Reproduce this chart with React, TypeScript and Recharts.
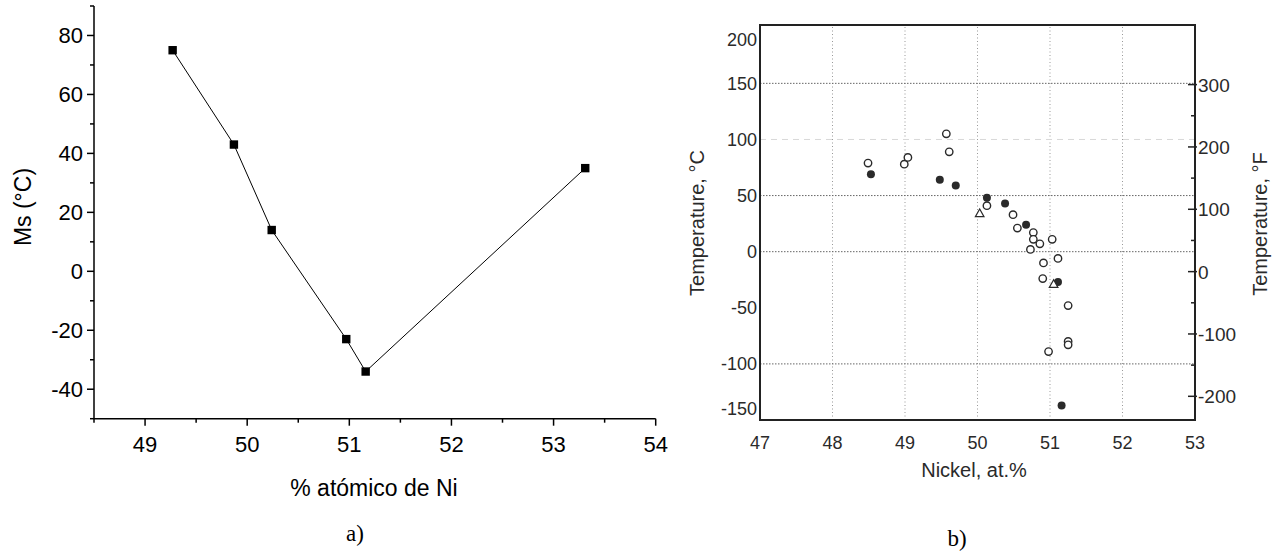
import {
  Line,
  LineChart,
  ReferenceArea,
  ReferenceLine,
  Scatter,
  ScatterChart,
  XAxis,
  YAxis,
} from "recharts";

// panel a) Ms vs Ni content
const niA = [49.27, 49.87, 50.24, 50.97, 51.16, 53.31];
const msA = [75, 43, 14, -23, -34, 35];
const ticksAX = [48.5, 49, 49.5, 50, 50.5, 51, 51.5, 52, 52.5, 53, 53.5, 54];
const majorAX = [49, 50, 51, 52, 53, 54];
const ticksAY = [-50, -40, -30, -20, -10, 0, 10, 20, 30, 40, 50, 60, 70, 80, 90];
const majorAY = [-40, -20, 0, 20, 40, 60, 80];

// panel b) scanned transformation temperatures
const openNi = [48.49, 48.99, 49.04, 49.57, 49.61, 50.13, 50.49, 50.55, 50.77, 50.77, 50.86, 50.73, 51.03, 51.11, 50.91, 50.9, 51.25, 51.25, 51.25, 50.98];
const openT = [79, 78, 84, 105, 89, 41, 33, 21, 17, 11, 7, 2, 11, -6, -10, -24, -48, -80, -83, -89];
const filledNi = [48.53, 49.48, 49.7, 50.13, 50.38, 50.67, 51.11, 51.16];
const filledT = [69, 64, 59, 48, 43, 24, -27, -137];
const triNi = [50.03, 51.05];
const triT = [34, -29];
const ticksBX = [47, 48, 49, 50, 51, 52, 53];
const ticksBC = [-150, -100, -50, 0, 50, 100, 150, 200];
const ticksBF = [-200, -150, -100, -50, 0, 50, 100, 150, 200, 250, 300];
const majorBF = [-200, -100, 0, 100, 200, 300];
const gridBX = [48, 49, 50, 51, 52];
const gridBC = [150, 50, 0, -100];
const faintBC = [100];

const domX: [number, number] = [47, 53];
const domC: [number, number] = [-150, 202];
const domF: [number, number] = [domC[0] * 1.8 + 32, domC[1] * 1.8 + 32];

const SANS = "'Liberation Sans', Arial, sans-serif";
const SERIF = "'Liberation Serif', 'Times New Roman', serif";
const INK = "#2a2a2a";

const dataA = niA.map((ni, i) => ({ ni, ms: msA[i] }));
const toPts = (xs: number[], ys: number[]) => xs.map((ni, i) => ({ ni, t: ys[i] }));

function TickAY({ x, y, payload }: any) {
  const major = majorAY.includes(payload.value);
  return (
    <g>
      <line x1={x} x2={x - (major ? 7 : 4)} y1={y} y2={y} stroke="#000" strokeWidth={1.5} />
      {major && (
        <text x={x - 11} y={y + 8} textAnchor="end" fontSize={22} fill="#000">
          {payload.value}
        </text>
      )}
    </g>
  );
}

function TickAX({ x, y, payload }: any) {
  const major = majorAX.includes(payload.value);
  return (
    <g>
      <line x1={x} x2={x} y1={y} y2={y + (major ? 7 : 4)} stroke="#000" strokeWidth={1.5} />
      {major && (
        <text x={x} y={y + 33} textAnchor="middle" fontSize={22} fill="#000">
          {payload.value}
        </text>
      )}
    </g>
  );
}

function SquareDot({ cx, cy }: any) {
  return <rect x={cx - 4.2} y={cy - 4.2} width={8.4} height={8.4} fill="#000" />;
}

function TickBC({ x, y, payload }: any) {
  const v = payload.value;
  let dy = 6.5;
  if (v === 200) dy += 12;
  if (v === -150) dy -= 12;
  return (
    <text x={x - 3} y={y + dy} textAnchor="end" fontSize={18} fill={INK}>
      {v}
    </text>
  );
}

function TickBF({ x, y, payload }: any) {
  const major = majorBF.includes(payload.value);
  return (
    <g>
      <line x1={x - (major ? 7 : 4)} x2={x + (major ? 2 : 0)} y1={y} y2={y} stroke="#222" strokeWidth={1.5} />
      {major && (
        <text x={x + 3} y={y + 7} textAnchor="start" fontSize={19} fill={INK}>
          {payload.value}
        </text>
      )}
    </g>
  );
}

function TickBX({ x, y, payload }: any) {
  return (
    <text x={x} y={y + 29} textAnchor="middle" fontSize={18} fill={INK}>
      {payload.value}
    </text>
  );
}

const OpenCircle = ({ cx, cy }: any) => (
  <circle cx={cx} cy={cy} r={3.7} fill="#fff" stroke={INK} strokeWidth={1.4} />
);
const FilledCircle = ({ cx, cy }: any) => <circle cx={cx} cy={cy} r={4} fill="#2a2a2a" />;
const OpenTriangle = ({ cx, cy }: any) => (
  <polygon
    points={`${cx},${cy - 4.5} ${cx - 4.3},${cy + 3.2} ${cx + 4.3},${cy + 3.2}`}
    fill="#fff"
    stroke={INK}
    strokeWidth={1.2}
  />
);

function Title({ x, y, text, rotate, size, color, font }: any) {
  return (
    <div
      style={{
        position: "absolute",
        left: x,
        top: y,
        transform: `translate(-50%, -50%)${rotate ? " rotate(-90deg)" : ""}`,
        whiteSpace: "nowrap",
        fontSize: size,
        lineHeight: 1,
        color,
        fontFamily: font,
      }}
    >
      {text}
    </div>
  );
}

export default function App() {
  return (
    <div style={{ position: "absolute", left: 0, top: 0, width: 1281, height: 556, background: "#fff" }}>
      <div style={{ position: "absolute", left: 0, top: 0 }}>
        <LineChart
          width={680}
          height={556}
          data={dataA}
          margin={{ top: 6, right: 24.3, bottom: 107.3, left: 34 }}
          style={{ fontFamily: SANS }}
        >
          <XAxis
            dataKey="ni"
            type="number"
            domain={[48.5, 54]}
            ticks={ticksAX}
            interval={0}
            height={30}
            tickSize={0}
            tickMargin={0}
            tickLine={false}
            tick={<TickAX />}
            axisLine={{ stroke: "#000", strokeWidth: 1.5 }}
          />
          <YAxis
            type="number"
            domain={[-50, 90]}
            ticks={ticksAY}
            interval={0}
            width={60}
            tickSize={0}
            tickMargin={0}
            tickLine={false}
            tick={<TickAY />}
            axisLine={{ stroke: "#000", strokeWidth: 1.5 }}
          />
          <Line
            dataKey="ms"
            type="linear"
            stroke="#000"
            strokeWidth={1}
            dot={<SquareDot />}
            activeDot={false}
            isAnimationActive={false}
          />
        </LineChart>
      </div>

      <div style={{ position: "absolute", left: 680, top: 0 }}>
        <ScatterChart
          width={601}
          height={556}
          margin={{ top: 25, right: 36, bottom: 106, left: 20 }}
          style={{ fontFamily: SANS }}
        >
          <XAxis
            dataKey="ni"
            type="number"
            domain={domX}
            allowDataOverflow
            ticks={ticksBX}
            interval={0}
            height={30}
            tickSize={0}
            tickMargin={0}
            tickLine={false}
            tick={<TickBX />}
            axisLine={{ stroke: "#222", strokeWidth: 2 }}
          />
          <YAxis
            yAxisId="c"
            dataKey="t"
            type="number"
            domain={domC}
            allowDataOverflow
            ticks={ticksBC}
            interval={0}
            width={60}
            tickSize={0}
            tickMargin={0}
            tickLine={false}
            tick={<TickBC />}
            axisLine={{ stroke: "#222", strokeWidth: 2 }}
          />
          <YAxis
            yAxisId="f"
            orientation="right"
            type="number"
            domain={domF}
            allowDataOverflow
            ticks={ticksBF}
            interval={0}
            width={50}
            tickSize={0}
            tickMargin={0}
            tickLine={false}
            tick={<TickBF />}
            axisLine={{ stroke: "#222", strokeWidth: 2 }}
          />
          {gridBX.map((v) => (
            <ReferenceLine key={`gx${v}`} x={v} yAxisId="c" stroke="#999" strokeDasharray="1 2.5" />
          ))}
          {gridBC.map((v) => (
            <ReferenceLine key={`gy${v}`} y={v} yAxisId="c" stroke="#666" strokeDasharray="1.5 1.5" />
          ))}
          {faintBC.map((v) => (
            <ReferenceLine key={`fy${v}`} y={v} yAxisId="c" stroke="#d8d8d8" strokeDasharray="6 5" />
          ))}
          {/* frame of the scanned plot */}
          <ReferenceArea
            x1={domX[0]}
            x2={domX[1]}
            y1={domC[0]}
            y2={domC[1]}
            yAxisId="c"
            ifOverflow="visible"
            fill="none"
            fillOpacity={0}
            stroke="#222"
            strokeWidth={2}
            strokeOpacity={1}
          />
          <Scatter
            yAxisId="c"
            data={toPts(openNi, openT)}
            shape={<OpenCircle />}
            isAnimationActive={false}
          />
          <Scatter
            yAxisId="c"
            data={toPts(filledNi, filledT)}
            shape={<FilledCircle />}
            isAnimationActive={false}
          />
          <Scatter
            yAxisId="c"
            data={toPts(triNi, triT)}
            shape={<OpenTriangle />}
            isAnimationActive={false}
          />
        </ScatterChart>
      </div>

      <Title x={23} y={207} text="Ms (°C)" rotate size={23} color="#000" font={SANS} />
      <Title x={374} y={488} text="% atómico de Ni" size={23} color="#000" font={SANS} />
      <Title x={355} y={533} text="a)" size={23} color="#000" font={SERIF} />

      <Title x={697} y={223} text="Temperature, °C" rotate size={20} color={INK} font={SANS} />
      <Title x={1260} y={224} text="Temperature, °F" rotate size={20} color={INK} font={SANS} />
      <Title x={974} y={470} text="Nickel, at.%" size={20} color={INK} font={SANS} />
      <Title x={957} y={538} text="b)" size={23} color="#000" font={SERIF} />
    </div>
  );
}
